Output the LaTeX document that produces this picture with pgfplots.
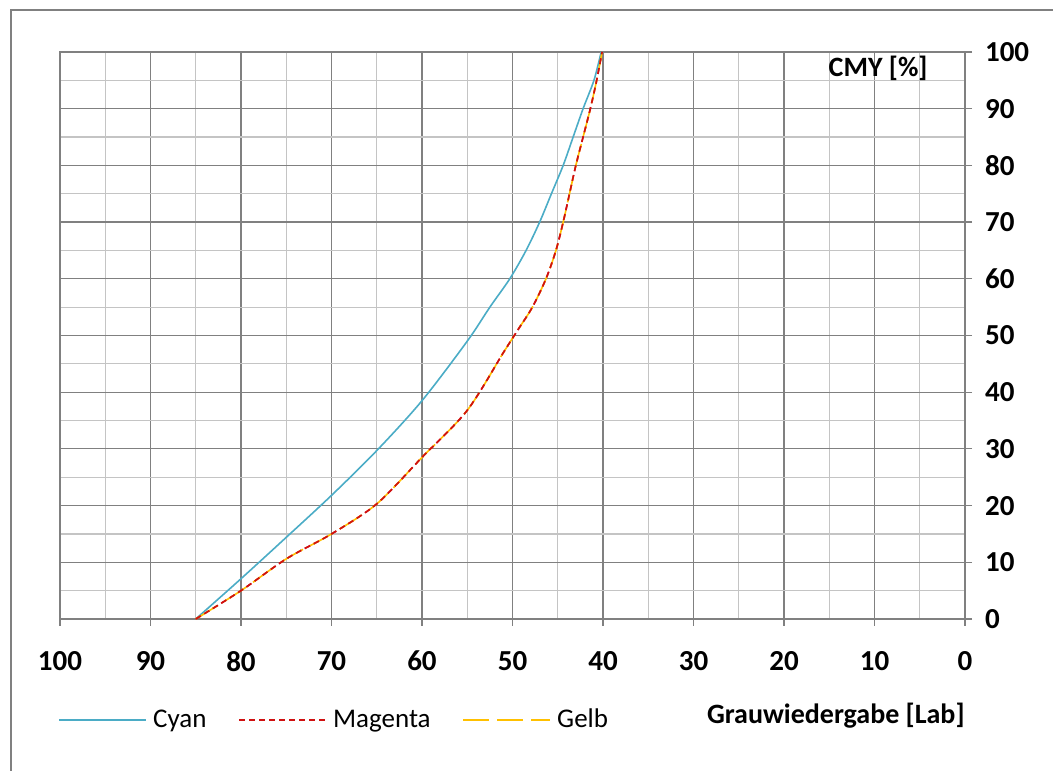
\documentclass[border=0pt]{standalone}
\usepackage{fontspec}
\setmainfont{Carlito}
\usepackage{pgfplots}
\pgfplotsset{compat=1.18}

\definecolor{cyanline}{HTML}{4BACC6}
\definecolor{magline}{HTML}{D01010}
\definecolor{gelbline}{HTML}{FFC000}
\definecolor{majgrid}{HTML}{808080}
\definecolor{mingrid}{HTML}{C4C4C4}

\begin{document}
\begin{tikzpicture}[x=0.5pt,y=0.5pt]
\useasboundingbox (0,0) rectangle (1053,770);
% outer chart frame
\draw[majgrid, line width=1pt] (11,-10) -- (11,760) -- (1070,760);
\begin{axis}[
    at={(30pt,75.5pt)}, anchor=south west,
    scale only axis,
    width=452.5pt, height=283.5pt,
    xmin=0, xmax=100, ymin=0, ymax=100,
    x dir=reverse,
    xtick={0,10,...,100}, ytick={0,10,...,100},
    minor xtick={5,15,...,95}, minor ytick={5,15,...,95},
    grid=both,
    major grid style={majgrid, line width=0.6pt},
    minor grid style={mingrid, line width=0.6pt},
    axis line style={majgrid, line width=0.6pt},
    xtick pos=left, ytick pos=right, yticklabel pos=right,
    tick align=outside,
    major tick length=3.5pt, minor tick length=0pt,
    tick style={majgrid, line width=0.6pt},
    /pgf/number format/assume math mode=true,
    ticklabel style={font=\fontsize{14.5}{17}\selectfont\bfseries},
    xticklabel style={yshift=-9pt},
    yticklabel style={xshift=3pt},
    legend style={at={(axis description cs:-0.002,-0.178)}, anchor=west,
        draw=none, fill=none, inner sep=0pt,
        font=\fontsize{13.5}{16}\selectfont,
        legend columns=3,
        /tikz/every odd column/.append style={column sep=1pt},
        /tikz/every even column/.append style={column sep=14pt}},
    legend image code/.code={\draw[#1] (0pt,0pt) -- (43.5pt,0pt);},
    clip=false,
]
\addplot[cyanline, line width=0.8pt, smooth, tension=0.5] coordinates {
(85,0) (80,7.1) (75,14.4) (70,21.8) (65,29.7) (60,38.5) (55,49)
(52.5,55) (50.3,60) (48.5,65) (47.0,70) (45.7,75) (44.4,80)
(43.3,85) (42.2,90) (41.0,95) (40.2,100)
};
\addlegendentry{Cyan}
\addplot[magline, line width=0.8pt, dash pattern=on 3pt off 2pt, smooth, tension=0.5] coordinates {
(85,0) (80,5) (75,10.6) (70,15) (65,20.3) (60,28.5) (55,36.8)
(51,47) (49.4,51) (47.8,55) (46.3,60) (45.2,65) (44.4,70) (43.7,75)
(43.0,80) (42.2,85) (41.4,90) (40.7,95) (40.1,100)
};
\addlegendentry{Magenta}
\addplot[gelbline, line width=0.8pt, dash pattern=on 13pt off 4pt, smooth, tension=0.5] coordinates {
(85,0) (80,5) (75,10.6) (70,15) (65,20.3) (60,28.5) (55,36.8)
(51,47) (49.4,51) (47.8,55) (46.3,60) (45.2,65) (44.4,70) (43.7,75)
(43.0,80) (42.2,85) (41.4,90) (40.7,95) (40.1,100)
};
\addlegendentry{Gelb}
% magenta again on top of the yellow line
\addplot[magline, line width=0.8pt, dash pattern=on 3pt off 2pt, smooth, tension=0.5, forget plot] coordinates {
(85,0) (80,5) (75,10.6) (70,15) (65,20.3) (60,28.5) (55,36.8)
(51,47) (49.4,51) (47.8,55) (46.3,60) (45.2,65) (44.4,70) (43.7,75)
(43.0,80) (42.2,85) (41.4,90) (40.7,95) (40.1,100)
};
\node[font=\fontsize{14}{16}\selectfont\bfseries] at (axis cs:9.6,97.2) {CMY [\%]};
\node[anchor=east, inner sep=0pt, font=\fontsize{14}{16}\selectfont\bfseries]
    at (axis description cs:1,-0.171) {Grauwiedergabe [Lab]};
\end{axis}
\end{tikzpicture}
\end{document}
